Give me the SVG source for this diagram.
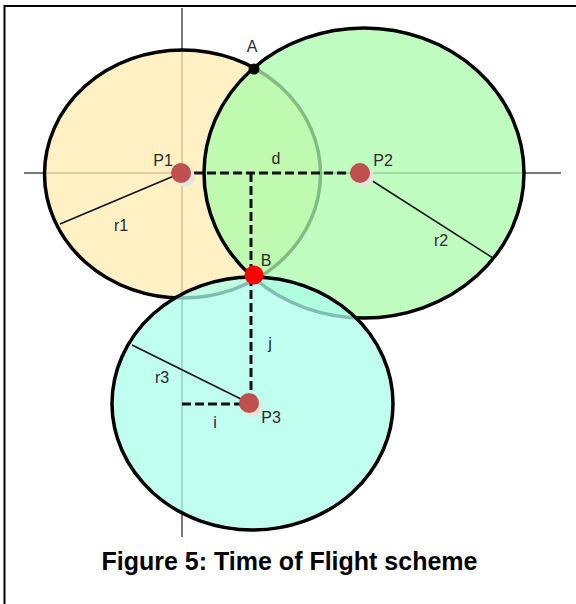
<svg xmlns="http://www.w3.org/2000/svg" width="576" height="604" viewBox="0 0 576 604">
<style>
.axis{stroke:#7a7a7a;stroke-width:2;fill:none}
.circ{stroke:#000;stroke-width:3.5;fill-opacity:0.75}
.dash{stroke:#111;stroke-width:3;stroke-dasharray:9 4;fill:none}
.rad{stroke:#111;stroke-width:1.5;fill:none}
.pt{fill:#c0504d}
.sh{fill:#e6e4dc}
.lbl{font-family:"Liberation Sans",Arial,sans-serif;font-size:16px;fill:#2a2a2a;text-anchor:middle}
.cap{font-family:"Liberation Sans",Arial,sans-serif;font-size:25px;font-weight:bold;fill:#000;text-anchor:middle}
</style>
<rect x="0" y="0" width="576" height="604" fill="#fff"/>
<path d="M4.5,610 V6 H580" fill="none" stroke="#000" stroke-width="2"/>
<g id="axes">
<line class="axis" x1="24" y1="173" x2="561" y2="173"/>
<line class="axis" x1="182" y1="8" x2="182" y2="537"/>
</g>
<g id="circle1"><ellipse class="circ" cx="182.5" cy="174" rx="138" ry="124" style="fill:rgb(255,236,176)"/></g>
<g id="circle2"><ellipse class="circ" cx="364" cy="173" rx="160" ry="145" style="fill:rgb(171,252,171)"/></g>
<g id="circle3"><ellipse class="circ" cx="252.5" cy="403.5" rx="140.5" ry="126.5" style="fill:rgb(171,255,235)"/></g>
<g id="connectors">
<line class="dash" x1="181" y1="173" x2="358" y2="173"/>
<line class="dash" x1="251" y1="173" x2="251" y2="403"/>
<line class="dash" x1="182" y1="404" x2="249" y2="404"/>
<line class="rad" x1="181" y1="173" x2="60" y2="224"/>
<line class="rad" x1="360" y1="173" x2="493" y2="258"/>
<line class="rad" x1="132" y1="345" x2="249" y2="403"/>
</g>
<g id="P1"><circle class="sh" cx="185" cy="177" r="10"/><circle class="pt" cx="181" cy="173" r="10"/><text class="lbl" x="163" y="166">P1</text></g>
<g id="P2"><circle class="sh" cx="364" cy="177" r="10"/><circle class="pt" cx="360" cy="173" r="10"/><text class="lbl" x="383" y="166">P2</text></g>
<g id="P3"><circle class="sh" cx="253" cy="407" r="10"/><circle class="pt" cx="249" cy="403" r="10"/><text class="lbl" x="271" y="423">P3</text></g>
<g id="A"><circle cx="254" cy="69" r="5.5" fill="#000"/><text class="lbl" x="252" y="52">A</text></g>
<g id="B"><circle cx="254" cy="275" r="9.5" fill="#ff0000"/><text class="lbl" x="266" y="266">B</text></g>
<g id="labels">
<text class="lbl" x="276" y="164">d</text>
<text class="lbl" x="121" y="231">r1</text>
<text class="lbl" x="441" y="246">r2</text>
<text class="lbl" x="270" y="349">j</text>
<text class="lbl" x="162" y="383">r3</text>
<text class="lbl" x="215" y="428">i</text>
</g>
<text class="cap" x="289.5" y="570">Figure 5: Time of Flight scheme</text>
</svg>
